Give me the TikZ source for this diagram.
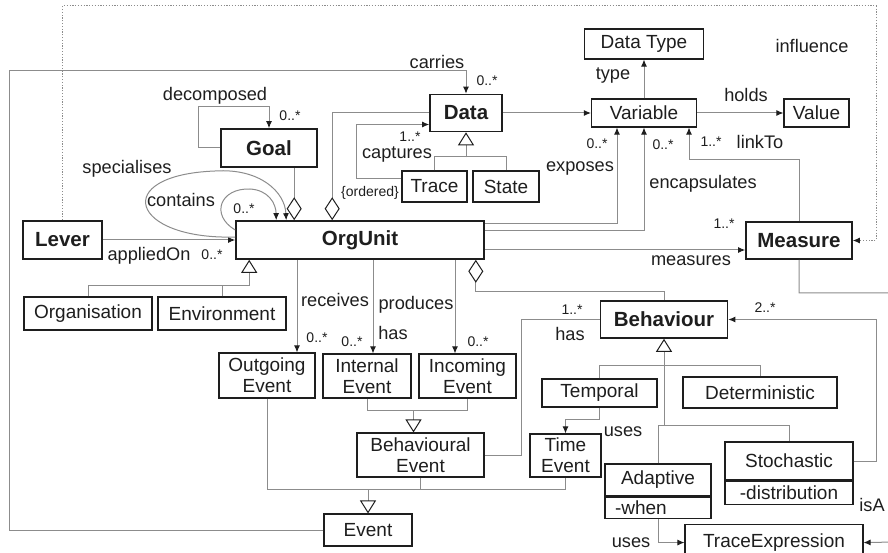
\documentclass[tikz,border=0pt]{standalone}
\usepackage{fontspec}
\setmainfont{Liberation Sans}
\usetikzlibrary{arrows.meta,calc}
\definecolor{linkgray}{HTML}{8C8C8C}
\definecolor{inkblack}{HTML}{1E1E1E}

\begin{document}
\begin{tikzpicture}[x=1pt,y=-1pt,
	cls/.style={draw=inkblack, line width=1.1pt, fill=white, inner sep=0pt, align=center, text=inkblack, font=\fontsize{19}{21}\selectfont},
	key/.style={cls, line width=1.6pt, font=\fontsize{20.5}{23}\selectfont\bfseries},
	link/.style={draw=linkgray, line width=1pt},
	assoc/.style={link, -{Latex[length=7pt,width=6pt,color=inkblack]}},
	isa/.style={link, -{Triangle[open,length=13pt,width=16pt,color=inkblack]}},
	part/.style={link, {Diamond[open,length=23pt,width=15pt,color=inkblack]}-},
	lbl/.style={inner sep=0pt, text=inkblack, font=\fontsize{18.2}{20}\selectfont},
	mult/.style={inner sep=0pt, text=inkblack, font=\fontsize{14}{16}\selectfont}]

	\clip (0,0) rectangle (888,553);

	% classes
	\node[cls, minimum width=119pt, minimum height=30pt] (datatype) at (644,44) {Data Type};
	\node[cls, minimum width=105pt, minimum height=28pt] (variable) at (644,113) {Variable};
	\node[cls, minimum width=65pt, minimum height=28pt] (value) at (816.5,113) {Value};
	\node[key, minimum width=72pt, minimum height=37pt] (data) at (466,113) {Data};
	\node[key, minimum width=96pt, minimum height=38pt] (goal) at (269,148) {Goal};
	\node[cls, minimum width=65pt, minimum height=31pt] (trace) at (434.5,186.5) {Trace};
	\node[cls, minimum width=66pt, minimum height=31pt] (state) at (506,186.5) {State};
	\node[key, minimum width=79pt, minimum height=38pt] (lever) at (62.5,240) {Lever};
	\node[key, minimum width=248pt, minimum height=38pt] (orgunit) at (360,240) {OrgUnit};
	\node[cls, minimum width=128pt, minimum height=33pt] (organisation) at (88,313.5) {Organisation};
	\node[cls, minimum width=128pt, minimum height=33pt] (environment) at (222,313.5) {Environment};
	\node[key, minimum width=106pt, minimum height=37pt] (measure) at (799,240.5) {Measure};
	\node[key, minimum width=127pt, minimum height=37pt] (behaviour) at (664,319.5) {Behaviour};
	\node[cls, minimum width=96pt, minimum height=45pt] (outgoing) at (267,375.5) {Outgoing\\Event};
	\node[cls, minimum width=88pt, minimum height=44pt] (internal) at (367,376) {Internal\\Event};
	\node[cls, minimum width=97pt, minimum height=44pt] (incoming) at (467.5,376) {Incoming\\Event};
	\node[cls, minimum width=127pt, minimum height=44pt] (behavevent) at (420.5,455) {Behavioural\\Event};
	\node[cls, minimum width=71pt, minimum height=43pt] (timeevent) at (565.5,455.5) {Time\\Event};
	\node[cls, minimum width=115pt, minimum height=28pt] (temporal) at (599.5,393) {Temporal};
	\node[cls, minimum width=154pt, minimum height=31pt] (deterministic) at (760,392.5) {Deterministic};
	\node[cls, minimum width=106pt, minimum height=32pt] (adaptive) at (658,480) {Adaptive};
	\node[cls, anchor=north, minimum width=106pt, minimum height=21pt, text width=86pt, align=left] (adaptiveattr) at (adaptive.south) {-when};
	\node[cls, minimum width=128pt, minimum height=38pt] (stochastic) at (789,461) {Stochastic};
	\node[cls, anchor=north, minimum width=128pt, minimum height=23pt] (stochasticattr) at (stochastic.south) {-distribution};
	\node[cls, anchor=north, minimum width=178pt, minimum height=36pt] (traceexpr) at (774,524) {TraceExpression};
	\node[cls, minimum width=88pt, minimum height=32pt] (event) at (368,530) {Event};

	% junctions
	\coordinate (inflcorner) at (876,6);
	\coordinate (carrycorner) at (9,71);
	\coordinate (goalloop) at (198,107);
	\coordinate (isaedge) at (896,542);
	\coordinate (ouisa) at ($(orgunit.south west)+(14,26)$);
	\coordinate (ouexp) at ($(orgunit.north east)+(0,3)$);
	\coordinate (ouenc) at ($(orgunit.north east)+(0,10)$);
	\coordinate (oumea) at ($(orgunit.east)+(0,10)$);
	\coordinate (recv) at ($(outgoing.north)+(30,0)$);
	\coordinate (prod) at ($(internal.north)+(6,0)$);
	\coordinate (inc) at ($(incoming.north)+(-12.5,0)$);
	\coordinate (bhjoin) at ($(behaviour.south)+(0,27)$);
	\coordinate (bhlow) at ($(behaviour.south)+(0,87)$);
	\coordinate (bejoin) at ($(behavevent.north)+(-7,-22)$);
	\coordinate (evjoin) at ($(event.north)+(0,-24)$);

	% influence
	\draw[link, dash pattern=on 1.2pt off 1.6pt, -{Latex[length=7pt,width=6pt,color=inkblack]}]
		(lever.north) |- (inflcorner) |- (measure.east);

	% generalisations
	\draw[link] (trace.north) -- ++(0,-14) -| (state.north);
	\draw[isa] ($(data.south)+(0,25)$) -- (data.south);
	\draw[isa] (organisation.north) |- (ouisa) -- (ouisa |- orgunit.south);
	\draw[link] (environment.north) -- (environment.north |- ouisa);
	\draw[link] (temporal.north) |- (deterministic.north |- bhjoin) -- (deterministic.north);
	\draw[link] (adaptive.north) |- (stochastic.north |- bhlow) -- (stochastic.north);
	\draw[isa] (bhlow) -- (behaviour.south);
	\draw[link] (internal.south) |- (incoming.south |- bejoin) -- (incoming.south);
	\draw[isa] (bejoin) -- (bejoin |- behavevent.north);
	\draw[link] (outgoing.south) |- (timeevent.south |- evjoin) -- (timeevent.south);
	\draw[link] (behavevent.south) -- (behavevent.south |- evjoin);
	\draw[isa] (evjoin) -- (event.north);

	% associations
	\draw[assoc] (event.west) -| (carrycorner) -| (data.north);
	\draw[assoc] (goal.west) -| (goalloop) -| (goal.north);
	\draw[assoc] ($(trace.west)+(0,-7.5)$) -- ++(-45,0) |- ($(data.west)+(0,11.5)$);
	\draw[assoc] (data.east) -- (variable.west);
	\draw[assoc] (variable.north) -- (datatype.south);
	\draw[assoc] (variable.east) -- (value.west);
	\draw[assoc] (ouexp) -| ($(variable.south)+(-27,0)$);
	\draw[assoc] (ouenc) -| (variable.south);
	\draw[assoc] (measure.north) -- ++(0,-62) -| ($(variable.south)+(45,0)$);
	\draw[assoc] (oumea) -- (oumea -| measure.west);
	\draw[assoc] (measure.south) -- ++(0,33) -| (isaedge) -- (traceexpr.east);
	\draw[assoc] (stochastic.east) -- ++(23,0) |- (behaviour.east);
	\draw[assoc] (lever.east) -- (orgunit.west);
	\draw[assoc] ($(orgunit.west)+(0,-3)$) .. controls (130,240) and (110,175) .. (215,171)
		.. controls (260,168) and (285,192) .. ($(orgunit.north west)+(51,0)$);
	\draw[assoc] ($(orgunit.west)+(0,-10)$) .. controls (210,215) and (220,188) .. (250,189)
		.. controls (268,190) and (276,203) .. ($(orgunit.north west)+(41,0)$);
	\draw[assoc] (recv |- orgunit.south) -- (recv);
	\draw[assoc] (prod |- orgunit.south) -- (prod);
	\draw[assoc] (inc |- orgunit.south) -- (inc);
	\draw[link] (behaviour.west) -- ++(-78,0) |- (behavevent.east);
	\draw[assoc] (temporal.south) -- ++(0,12) -| (timeevent.north);
	\draw[assoc] (adaptiveattr.south) |- (traceexpr.west);

	% aggregations
	\draw[part] ($(orgunit.north west)+(59,0)$) -- (goal.south -| {$(orgunit.north west)+(59,0)$});
	\draw[part] ($(orgunit.north west)+(97,0)$) |- (data.west);
	\draw[part] ($(orgunit.south east)+(-9,0)$) -- ++(0,32) -| (behaviour.north);

	% role names
	\foreach \x/\y/\t [count=\i] in {812/46/influence, 437/62/carries, 215/96/decomposed,
		613/76/type, 746/95/holds, 397/155/captures, 580/168/exposes, 703/184/encapsulates,
		760/142/linkTo, 691/261/measures, 127/169/specialises, 181/200/contains,
		149/256/appliedOn, 335/300/receives, 416/305/produces, 393/333/has, 570/334/has,
		623/432/uses, 631/543/uses, 872/505/isA} {
		\node[lbl] (lbl\i) at (\x,\y) {\t};
	}
	\node[mult] (ordered) at (370,193) {\{ordered\}};

	% multiplicities
	\foreach \x/\y/\t [count=\i] in {487/81/0..*, 290/116/0..*, 410/137/1..*, 597/144/0..*,
		663/145/0..*, 711/142/1..*, 724/224/1..*, 244/209/0..*, 212/255/0..*, 317/338/0..*,
		352/342/0..*, 478/342/0..*, 572/310/1..*, 765/308/2..*} {
		\node[mult] (mult\i) at (\x,\y) {\t};
	}

\end{tikzpicture}
\end{document}
